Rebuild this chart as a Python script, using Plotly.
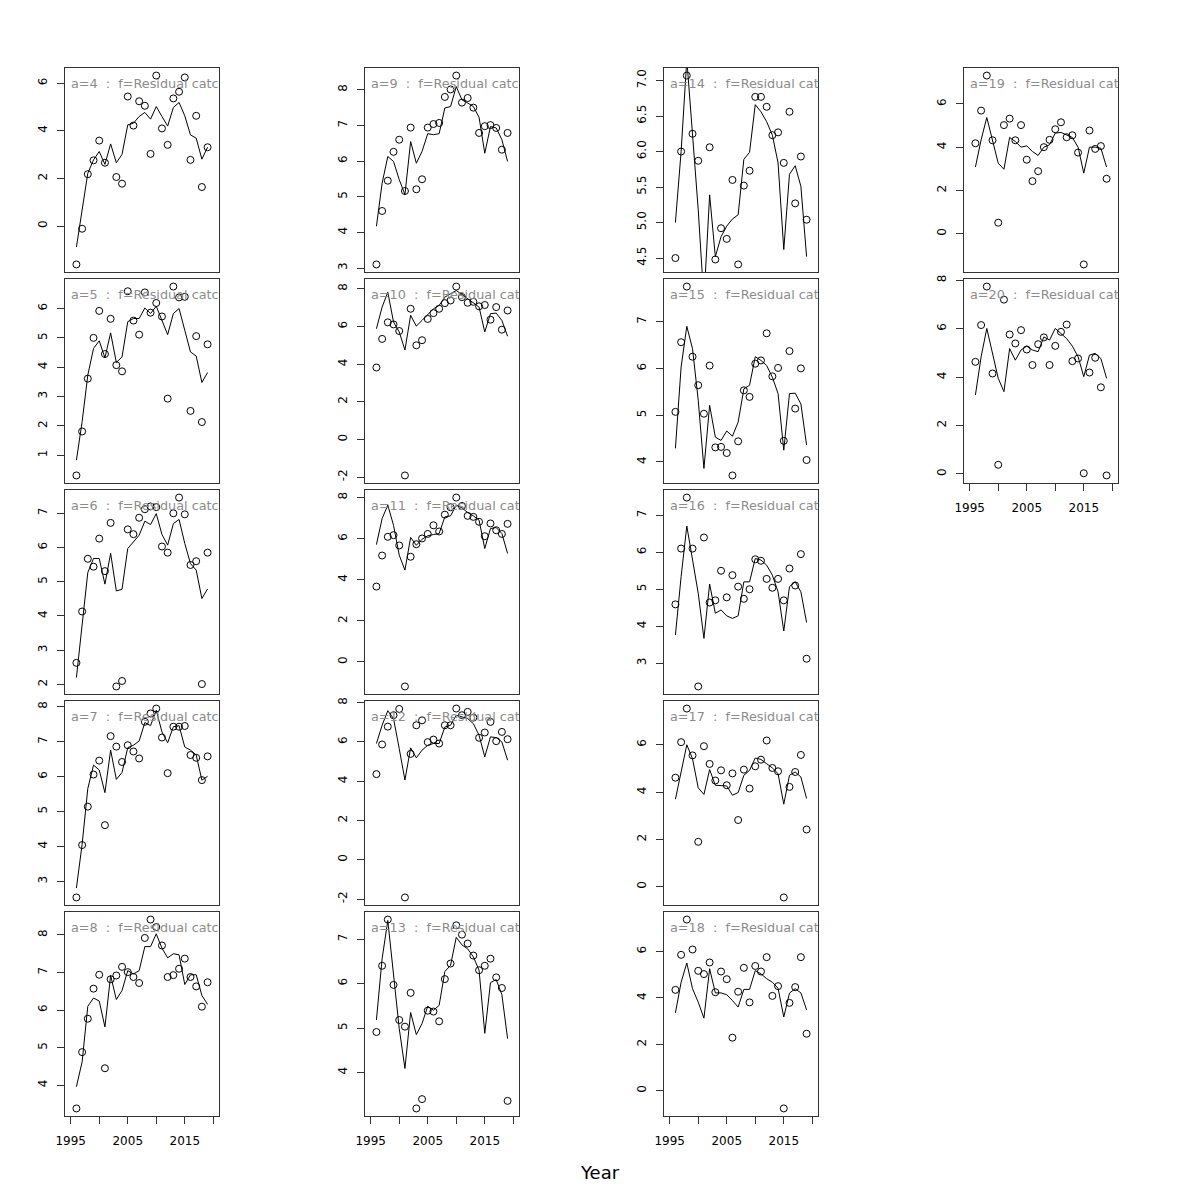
import plotly.graph_objects as go

years = list(range(1996, 2020))

obs_a4 = [-1.61, -0.11, 2.18, 2.76, 3.59, 2.66, None, 2.06, 1.78, 5.44, 4.22, 5.24, 5.05, 3.03, 6.32, 4.10, 3.41, 5.36, 5.64, 6.24, 2.78, 4.63, 1.64, 3.31]
fit_a4 = [-0.88, 0.69, 2.22, 2.78, 3.13, 2.59, 3.45, 2.66, 3.01, 4.25, 4.32, 4.60, 4.77, 4.49, 5.02, 4.60, 4.20, 4.98, 5.19, 4.63, 3.83, 3.69, 2.81, 3.31]

obs_a5 = [0.31, 1.81, 3.61, 5.00, 5.92, 4.45, 5.65, 4.07, 3.86, 6.59, 5.59, 5.11, 6.55, 5.86, 6.19, 5.73, 2.93, 6.75, 6.38, 6.40, 2.51, 5.06, 2.13, 4.78]
fit_a5 = [0.83, 2.14, 3.73, 4.64, 4.90, 4.32, 5.17, 4.16, 4.35, 5.55, 5.66, 5.66, 6.02, 5.83, 6.08, 5.60, 5.11, 5.83, 6.00, 5.26, 4.52, 4.38, 3.48, 3.82]

obs_a6 = [2.63, 4.13, 5.67, 5.44, 6.26, 5.31, 6.72, 1.94, 2.10, 6.53, 6.39, 6.87, 7.12, 7.20, 7.18, 6.03, 5.85, 7.00, 7.46, 6.97, 5.49, 5.60, 2.01, 5.85]
fit_a6 = [2.20, 3.74, 5.27, 5.68, 5.68, 4.93, 5.83, 4.73, 4.78, 5.97, 6.17, 6.36, 6.77, 6.67, 6.99, 6.38, 6.07, 6.70, 6.82, 6.12, 5.53, 5.34, 4.51, 4.79]

obs_a7 = [2.54, 4.04, 5.14, 6.06, 6.46, 4.61, 7.16, 6.86, 6.42, 6.90, 6.72, 6.52, 7.57, 7.81, 7.95, 7.12, 6.10, 7.43, 7.43, 7.45, 6.62, 6.54, 5.90, 6.58]
fit_a7 = [2.81, 4.06, 5.66, 6.33, 6.19, 5.54, 6.76, 5.92, 6.12, 6.83, 6.90, 7.02, 7.55, 7.46, 7.90, 7.28, 6.97, 7.43, 7.46, 6.85, 6.76, 6.62, 5.90, 6.01]

obs_a8 = [3.38, 4.88, 5.77, 6.57, 6.94, 4.45, 6.82, 6.92, 7.15, 7.01, 6.88, 6.72, 7.92, 8.41, 8.21, 7.72, 6.88, 6.93, 7.10, 7.37, 6.88, 6.63, 6.09, 6.74]
fit_a8 = [3.96, 4.62, 6.10, 6.32, 6.24, 5.55, 6.92, 6.28, 6.52, 7.05, 6.96, 7.05, 7.69, 7.69, 8.03, 7.65, 7.39, 7.50, 7.47, 6.68, 6.94, 6.94, 6.39, 6.15]

obs_a9 = [3.10, 4.60, 5.45, 6.26, 6.60, 5.16, 6.94, 5.21, 5.49, 6.94, 7.04, 7.07, 7.80, 8.01, 8.40, 7.64, 7.77, 7.50, 6.79, 6.98, 7.01, 6.93, 6.32, 6.79]
fit_a9 = [4.17, 5.38, 6.13, 5.99, 5.48, 5.06, 6.55, 5.94, 6.27, 6.77, 6.74, 6.77, 7.49, 7.53, 8.09, 7.72, 7.63, 7.53, 7.23, 6.22, 6.97, 6.93, 6.60, 5.99]

obs_a10 = [3.82, 5.34, 6.22, 6.11, 5.76, -1.91, 6.94, 5.00, 5.27, 6.40, 6.71, 6.94, 7.24, 7.38, 8.12, 7.56, 7.26, 7.31, 7.07, 7.14, 6.36, 7.03, 5.83, 6.85]
fit_a10 = [5.88, 7.03, 7.82, 6.24, 5.71, 4.75, 6.59, 6.02, 6.32, 6.62, 6.94, 7.12, 7.56, 7.74, 7.91, 7.70, 7.47, 7.29, 7.03, 5.71, 6.68, 6.71, 6.32, 5.48]

obs_a11 = [3.67, 5.18, 6.09, 6.17, 5.67, -1.19, 5.12, 5.73, 6.01, 6.23, 6.65, 6.35, 7.17, 7.53, 8.00, 7.59, 7.11, 7.06, 6.82, 6.12, 6.74, 6.41, 6.23, 6.72]
fit_a11 = [5.71, 6.98, 7.63, 6.65, 5.20, 4.47, 6.06, 5.68, 5.97, 6.14, 6.20, 6.25, 7.06, 7.11, 7.63, 7.50, 7.27, 7.11, 6.90, 5.52, 6.49, 6.54, 6.25, 5.28]

obs_a12 = [4.36, 5.87, 6.78, 7.36, 7.68, -1.92, 5.39, 6.85, 7.10, 5.99, 6.12, 5.92, 6.85, 6.85, 7.70, 7.36, 7.53, 7.24, 6.21, 6.48, 7.02, 6.04, 6.51, 6.14]
fit_a12 = [5.92, 6.85, 7.59, 7.19, 5.66, 4.06, 5.70, 5.19, 5.58, 5.83, 5.92, 5.92, 6.76, 6.85, 7.36, 7.27, 7.19, 6.93, 6.34, 5.24, 6.26, 6.22, 6.00, 5.07]

obs_a13 = [4.91, 6.40, 7.44, 5.97, 5.18, 5.03, 5.79, 3.19, 3.40, 5.39, 5.37, 5.15, 6.10, 6.45, 7.31, 7.10, 6.90, 6.63, 6.30, 6.40, 6.56, 6.14, 5.90, 3.36]
fit_a13 = [5.18, 6.56, 7.42, 6.26, 4.99, 4.09, 5.35, 4.85, 5.10, 5.49, 5.40, 5.51, 6.27, 6.41, 7.04, 6.87, 6.78, 6.60, 6.30, 4.88, 6.02, 6.09, 5.75, 4.76]

obs_a14 = [4.50, 6.00, 7.07, 6.25, 5.87, None, 6.06, 4.48, 4.92, 4.77, 5.60, 4.41, 5.52, 5.73, 6.77, 6.77, 6.63, 6.23, 6.27, 5.84, 6.56, 5.27, 5.93, 5.04]
fit_a14 = [5.00, 6.00, 7.30, 6.28, 5.18, 3.90, 5.39, 4.52, 4.80, 4.95, 5.05, 5.11, 5.89, 5.99, 6.66, 6.56, 6.42, 6.23, 5.84, 4.62, 5.68, 5.80, 5.51, 4.52]

obs_a15 = [5.07, 6.56, 7.75, 6.25, 5.64, 5.03, 6.06, 4.31, 4.32, 4.19, 3.71, 4.44, 5.53, 5.39, 6.10, 6.17, 6.75, 5.83, 6.01, 4.45, 6.37, 5.14, 6.00, 4.04]
fit_a15 = [4.29, 6.03, 6.90, 6.42, 5.32, 3.86, 5.21, 4.53, 4.46, 4.66, 4.55, 4.85, 5.56, 5.64, 6.25, 6.17, 6.06, 5.81, 5.46, 4.25, 5.46, 5.47, 5.24, 4.36]

obs_a16 = [4.59, 6.10, 7.48, 6.10, 2.37, 6.40, 4.64, 4.70, 5.50, 4.78, 5.38, 5.07, 4.74, 5.00, 5.81, 5.77, 5.28, 5.04, 5.28, 4.70, 5.56, 5.10, 5.95, 3.12]
fit_a16 = [3.76, 5.34, 6.71, 5.74, 4.89, 3.67, 5.14, 4.35, 4.44, 4.28, 4.21, 4.28, 5.20, 5.20, 5.83, 5.79, 5.65, 5.38, 4.93, 3.87, 5.07, 5.20, 4.93, 4.10]

obs_a17 = [4.61, 6.11, 7.53, 5.55, 1.90, 5.94, 5.19, 4.49, 4.92, 4.29, 4.79, 2.82, 4.95, 4.15, 5.09, 5.37, 6.18, 5.02, 4.88, -0.45, 4.22, 4.85, 5.57, 2.42]
fit_a17 = [3.70, 4.85, 6.00, 5.41, 4.18, 3.90, 4.95, 4.29, 4.29, 4.26, 3.87, 3.98, 4.71, 4.92, 5.44, 5.38, 5.20, 5.02, 4.78, 3.49, 4.71, 4.85, 4.64, 3.73]

obs_a18 = [4.35, 5.86, 7.38, 6.09, 5.17, 5.03, 5.53, 4.25, 5.14, 4.81, 2.29, 4.27, 5.30, 3.81, 5.38, 5.14, 5.76, 4.09, 4.51, -0.76, 3.79, 4.47, 5.76, 2.46]
fit_a18 = [3.36, 4.68, 5.51, 4.40, 3.82, 3.13, 5.26, 4.22, 4.22, 4.14, 3.89, 3.61, 4.37, 4.37, 5.18, 5.04, 4.83, 4.68, 4.42, 3.18, 4.21, 4.40, 4.22, 3.49]

obs_a19 = [4.18, 5.69, 7.31, 4.32, 0.51, 5.02, 5.32, 4.32, 5.02, 3.42, 2.43, 2.89, 4.00, 4.34, 4.83, 5.15, 4.46, 4.55, 3.75, -1.42, 4.77, 3.92, 4.05, 2.54]
fit_a19 = [3.08, 4.34, 5.37, 4.26, 3.26, 2.98, 4.45, 4.26, 4.00, 4.06, 3.80, 3.62, 4.00, 4.11, 4.65, 4.68, 4.57, 4.45, 4.00, 2.80, 4.00, 4.00, 3.95, 3.08]

obs_a20 = [4.63, 6.15, 7.74, 4.15, 0.38, 7.20, 5.76, 5.39, 5.94, 5.14, 4.50, 5.36, 5.64, 4.50, 5.29, 5.87, 6.17, 4.66, 4.77, 0.03, 4.19, 4.80, 3.58, -0.06]
fit_a20 = [3.26, 4.84, 6.01, 5.01, 3.95, 3.40, 5.18, 4.70, 5.12, 5.28, 5.12, 5.05, 5.66, 5.53, 6.01, 5.80, 5.59, 5.28, 4.84, 4.02, 4.91, 4.98, 4.77, 3.95]

yticks_a4 = [0, 2, 4, 6]
yticks_a5 = [1, 2, 3, 4, 5, 6]
yticks_a6 = [2, 3, 4, 5, 6, 7]
yticks_a7 = [3, 4, 5, 6, 7, 8]
yticks_a8 = [4, 5, 6, 7, 8]
yticks_a9 = [3, 4, 5, 6, 7, 8]
yticks_a10 = [-2, 0, 2, 4, 6, 8]
yticks_a11 = [0, 2, 4, 6, 8]
yticks_a12 = [-2, 0, 2, 4, 6, 8]
yticks_a13 = [4, 5, 6, 7]
yticks_a14 = [4.5, 5.0, 5.5, 6.0, 6.5, 7.0]
yticks_a15 = [4, 5, 6, 7]
yticks_a16 = [3, 4, 5, 6, 7]
yticks_a17 = [0, 2, 4, 6]
yticks_a18 = [0, 2, 4, 6]
yticks_a19 = [0, 2, 4, 6]
yticks_a20 = [0, 2, 4, 6, 8]

xtick_vals = [1995, 2000, 2005, 2010, 2015, 2020]
xtick_text = ["1995", "", "2005", "", "2015", ""]

ages = [4, 5, 6, 7, 8, 9, 10, 11, 12, 13, 14, 15, 16, 17, 18, 19, 20]
obs_all = [obs_a4, obs_a5, obs_a6, obs_a7, obs_a8, obs_a9, obs_a10, obs_a11, obs_a12,
           obs_a13, obs_a14, obs_a15, obs_a16, obs_a17, obs_a18, obs_a19, obs_a20]
fit_all = [fit_a4, fit_a5, fit_a6, fit_a7, fit_a8, fit_a9, fit_a10, fit_a11, fit_a12,
           fit_a13, fit_a14, fit_a15, fit_a16, fit_a17, fit_a18, fit_a19, fit_a20]
ticks_all = [yticks_a4, yticks_a5, yticks_a6, yticks_a7, yticks_a8, yticks_a9, yticks_a10,
             yticks_a11, yticks_a12, yticks_a13, yticks_a14, yticks_a15, yticks_a16,
             yticks_a17, yticks_a18, yticks_a19, yticks_a20]

# layout geometry (pixels; the page body adds an 8px offset)
W = H = 1200
OFF = 8
col_left = [65 - OFF, 365 - OFF, 664 - OFF, 964 - OFF]
row_top = [68 - OFF, 279 - OFF, 490 - OFF, 701 - OFF, 912 - OFF]
pw, ph = 154, 204
xr = [1994, 2021]
FONT = "DejaVu Sans"

fig = go.Figure()
layout = dict(width=W, height=H, autosize=False, margin=dict(l=0, r=0, t=0, b=0, pad=0),
              paper_bgcolor="white", plot_bgcolor="white", showlegend=False,
              font=dict(family=FONT, size=12, color="black"))

for i, a in enumerate(ages):
    idx = i + 1
    col, row = divmod(i, 5)
    xa = "x" if idx == 1 else f"x{idx}"
    ya = "y" if idx == 1 else f"y{idx}"
    bottom = (row == 4) or (a == 20)
    obs, fit, ticks = obs_all[i], fit_all[i], ticks_all[i]
    vals = [v for v in obs if v is not None]
    lo, hi = min(vals), max(vals)
    pad = 0.04 * (hi - lo)
    yr = [lo - pad, hi + pad]

    fig.add_trace(go.Scatter(x=years, y=fit, mode="lines", line=dict(color="black", width=1),
                             xaxis=xa, yaxis=ya, hoverinfo="skip"))
    fig.add_trace(go.Scatter(x=years, y=obs, mode="markers",
                             marker=dict(symbol="circle-open", size=7, color="black",
                                         line=dict(width=1, color="black")),
                             xaxis=xa, yaxis=ya, hoverinfo="skip"))
    lx = xr[0] + (xr[1] - xr[0]) * 6.0 / pw
    ly = yr[1] - (yr[1] - yr[0]) * 17 / ph
    fig.add_trace(go.Scatter(x=[lx], y=[ly], mode="text",
                             text=[f"a={a}\u00a0\u00a0:\u00a0\u00a0f=Residual catch"],
                             textposition="middle right", cliponaxis=True,
                             textfont=dict(family=FONT, size=12.8, color="#8c8c8c"),
                             xaxis=xa, yaxis=ya, hoverinfo="skip"))

    x0 = col_left[col] / W
    x1 = (col_left[col] + pw) / W
    y1 = 1 - row_top[row] / H
    y0 = 1 - (row_top[row] + ph) / H
    dec = any(float(t) != int(t) for t in ticks)
    ttext = [f"{t:.1f}" if dec else str(int(t)) for t in ticks]

    layout["xaxis" if idx == 1 else f"xaxis{idx}"] = dict(
        domain=[x0, x1], range=xr, anchor=ya, showline=True, mirror=True, automargin=False,
        linecolor="#333333", linewidth=1, showgrid=False, zeroline=False,
        tickvals=xtick_vals, ticktext=xtick_text,
        ticks="outside" if bottom else "", ticklen=7, tickcolor="#333333",
        ticklabelstandoff=7,
        showticklabels=bottom, tickfont=dict(family=FONT, size=12, color="black"))
    layout["yaxis" if idx == 1 else f"yaxis{idx}"] = dict(
        domain=[y0, y1], range=yr, anchor=xa, showline=True, mirror=True, automargin=False,
        linecolor="#333333", linewidth=1, showgrid=False, zeroline=False,
        tickvals=ticks, ticktext=ttext, ticks="outside", ticklen=7, tickcolor="#333333",
        ticklabelstandoff=5,
        tickangle=-90, tickfont=dict(family=FONT, size=12, color="black"))

layout["annotations"] = [dict(text="Year", x=(600 - OFF) / W, y=1 - (1172 - OFF) / H,
                              xref="paper", yref="paper",
                              showarrow=False, font=dict(family=FONT, size=18, color="black"),
                              xanchor="center", yanchor="middle")]
fig.update_layout(**layout)
fig.write_html("out.html")
